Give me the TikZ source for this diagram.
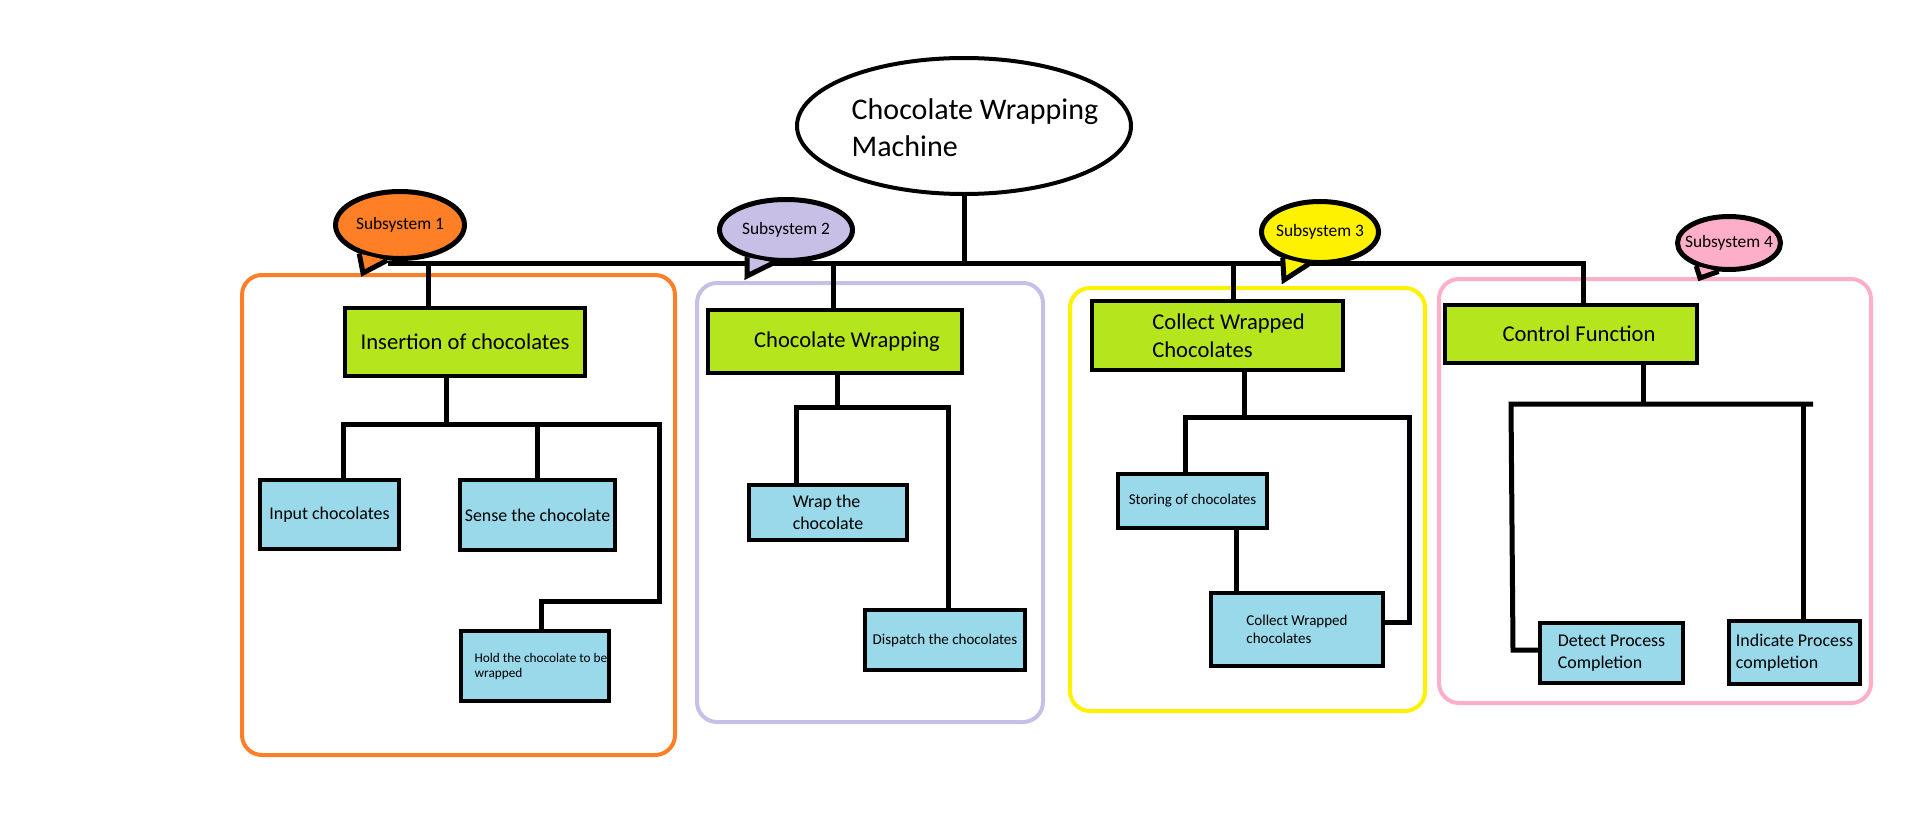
\documentclass[tikz,border=0pt]{standalone}
\usepackage{fontspec}
\setmainfont{Carlito}
\usetikzlibrary{calc,shapes.geometric}
\definecolor{limefill}{RGB}{181,230,29}
\definecolor{bluefill}{RGB}{153,217,234}
\definecolor{sysorange}{RGB}{255,127,39}
\definecolor{syslav}{RGB}{200,191,231}
\definecolor{sysyellow}{RGB}{255,242,0}
\definecolor{syspink}{RGB}{255,174,201}
\tikzset{
  wire/.style       = {line width=5pt},
  frame/.style      = {line width=4pt, rounded corners=20pt},
  topbox/.style     = {rectangle, draw, line width=4pt, fill=limefill, inner sep=0pt,
                       align=left, font=\fontsize{22.6}{28}\selectfont},
  leafbox/.style    = {rectangle, draw, line width=4pt, fill=bluefill, inner sep=0pt,
                       align=left, font=\fontsize{17.9}{22}\selectfont},
  leafbox small/.style = {leafbox, font=\fontsize{15}{18}\selectfont},
  leafbox tiny/.style  = {leafbox, font=\fontsize{13.3}{15}\selectfont},
  bubble/.style     = {ellipse, draw, line width=5pt, inner sep=0pt,
                       label={[font=\fontsize{17.4}{20}\selectfont]center:#1}},
  tail/.style       = {line width=5pt, line join=miter},
}
\newcommand{\lpad}[1]{\hspace*{#1pt}}

\begin{document}
\begin{tikzpicture}[x=1pt,y=-1pt]
  \useasboundingbox (0,0) rectangle (1914,822);

  % subsystem frames
  \draw[frame,sysorange] (242,275) rectangle (675,755);
  \draw[frame,syslav] (697,283) rectangle (1043,722);
  \draw[frame,sysyellow] (1070,288) rectangle (1425,711);
  \draw[frame,syspink] (1439,279) rectangle (1871,703);

  % machine
  \node[ellipse, draw, line width=4pt, fill=white, inner sep=0pt,
        minimum width=334, minimum height=136,
        label={[xshift=11pt, yshift=-2pt, align=left,
                font=\fontsize{30}{37}\selectfont]center:Chocolate Wrapping\\Machine}]
        (machine) at (964,126) {};

  % functions
  \node[topbox, minimum width=240, minimum height=68] (insert) at (465,342) {Insertion of chocolates};
  \node[topbox, minimum width=254, minimum height=63] (cwrap) at (835,341.5) {\lpad{24}Chocolate Wrapping};
  \node[topbox, minimum width=251, minimum height=69] (collect) at (1217.5,335.5) {\lpad{22}Collect Wrapped\\\lpad{22}Chocolates};
  \node[topbox, minimum width=252, minimum height=58] (control) at (1571,334) {\lpad{16}Control Function};

  % sub-functions
  \node[leafbox, minimum width=139, minimum height=69] (input) at (329.5,514.5) {Input chocolates};
  \node[leafbox, minimum width=155, minimum height=70] (sense) at (537.5,515) {Sense the chocolate};
  \node[leafbox tiny, minimum width=148, minimum height=70] (hold) at (535,666) {\lpad{12}Hold the chocolate to be\\\lpad{12}wrapped};
  \node[leafbox, minimum width=158, minimum height=55] (wrap) at (828,512.5) {Wrap the\\chocolate};
  \node[leafbox small, minimum width=160, minimum height=60] (dispatch) at (945,640) {Dispatch the chocolates};
  \node[leafbox small, minimum width=149, minimum height=54] (storing) at (1192.5,501) {Storing of chocolates};
  \node[leafbox small, minimum width=172, minimum height=73] (cwc) at (1297,629.5) {Collect Wrapped\\chocolates};
  \node[leafbox, minimum width=143, minimum height=60] (detect) at (1611.5,653) {Detect Process\\Completion};
  \node[leafbox, minimum width=131, minimum height=63] (indicate) at (1794.5,652.5) {Indicate Process\\completion};

  % main tree
  \coordinate (busL) at (388,263);
  \coordinate (busR) at (1583,263);
  \draw[wire] (machine.south) -- (machine.south |- busL);
  \draw[wire] (busL) -- (busR) -- (control.north -| busR);
  \draw[wire] (insert.north -| 428,0) -- (428,263);
  \draw[wire] (cwrap.north -| 833,0) -- (833,263);
  \draw[wire] (collect.north -| 1233,0) -- (1233,263);

  % subsystem 1
  \draw[wire] (insert.south -| 446,0) -- (446,424);
  \draw[wire] (input.north -| 343,0) -- (343,424) -- (659,424) -- (659,601) -- (541,601)
              -- (hold.north -| 541,0);
  \draw[wire] (sense.north) -- (sense.north |- 0,424);

  % subsystem 2
  \draw[wire] (cwrap.south -| 837,0) -- (837,407);
  \draw[wire] (wrap.north -| 796,0) -- (796,407) -- (948,407) -- (dispatch.north -| 948,0);

  % subsystem 3
  \draw[wire] (collect.south -| 1244,0) -- (1244,417);
  \draw[wire] (storing.north -| 1185,0) -- (1185,417) -- (1409,417) -- (1409,622)
              -- (cwc.east |- 0,622);
  \draw[wire] (storing.south -| 1236,0) -- (cwc.north -| 1236,0);

  % subsystem 4
  \draw[wire] (control.south -| 1643,0) -- (1643,404);
  \draw[wire] (detect.west |- 0,650) -- (1513,650) -- (1511,404) -- (1813,404);
  \draw[wire] (1803,404) -- (indicate.north -| 1803,0);

  % speech bubbles
  \node[bubble=Subsystem 1, fill=sysorange, minimum width=129, minimum height=67] (sub1) at (400,225) {};
  \fill[sysorange] (sub1.215) -- ($(sub1)+(-37,48)$) -- (sub1.250) -- cycle;
  \draw[tail] (sub1.215) -- ($(sub1)+(-37,48)$) -- (sub1.250);

  \node[bubble=Subsystem 2, fill=syslav, minimum width=133, minimum height=61] (sub2) at (786,230) {};
  \fill[syslav] (sub2.215) -- ($(sub2)+(-39,46)$) -- (sub2.250) -- cycle;
  \draw[tail] (sub2.215) -- ($(sub2)+(-39,46)$) -- (sub2.250);

  \node[bubble=Subsystem 3, fill=sysyellow, minimum width=117, minimum height=61] (sub3) at (1320,232) {};
  \fill[sysyellow] (sub3.215) -- ($(sub3)+(-36,48)$) -- (sub3.250) -- cycle;
  \draw[tail] (sub3.215) -- ($(sub3)+(-36,48)$) -- (sub3.250);

  \node[bubble=Subsystem 4, fill=syspink, minimum width=103, minimum height=53] (sub4) at (1729,243) {};
  \fill[syspink] (sub4.215) -- ($(sub4)+(-29,35)$) -- (sub4.250) -- cycle;
  \draw[tail] (sub4.215) -- ($(sub4)+(-29,35)$) -- (sub4.250);
\end{tikzpicture}
\end{document}
